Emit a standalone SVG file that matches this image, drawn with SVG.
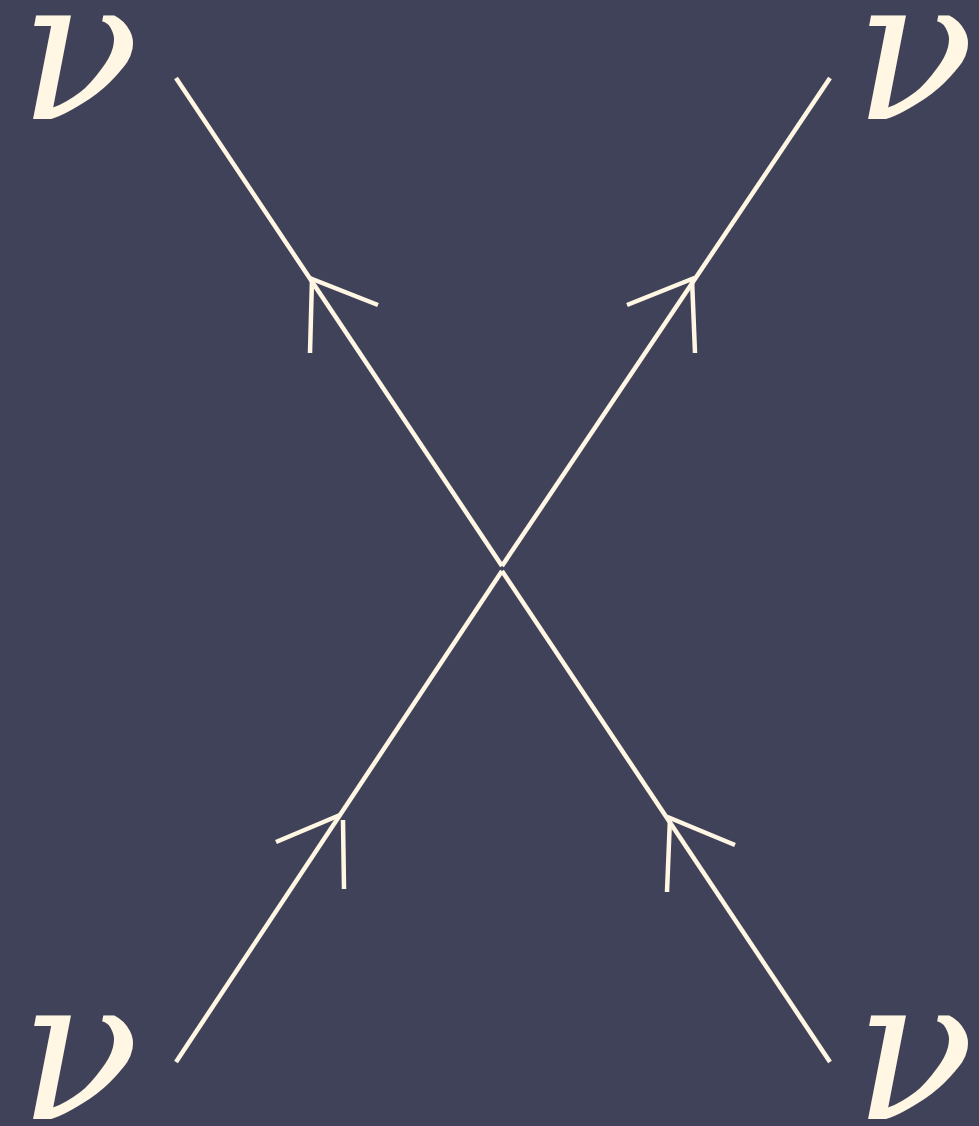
<svg xmlns="http://www.w3.org/2000/svg" width="979" height="1126" viewBox="0 0 979 1126">
<style>
.bg{fill:#404259}
.ln{stroke:#fff6e3;stroke-width:4.5;fill:none}
.lbl{fill:#fff6e3;font-family:"DejaVu Serif",serif;font-style:italic;font-size:198px}
</style>
<rect class="bg" x="0" y="0" width="979" height="1126"/>
<g id="connectors">
<path class="ln" d="M176,78 L502,566"/>
<path class="ln" d="M830,78 L502,566"/>
<path class="ln" d="M176,1062 L502,571"/>
<path class="ln" d="M830,1062 L502,571"/>
<path class="ln" d="M378,305 L312,279 L310,353"/>
<path class="ln" d="M627,305 L692,279 L695,353"/>
<path class="ln" d="M276,842 L340,815"/>
<path class="ln" d="M343,820 L344,889"/>
<path class="ln" d="M735,845 L670,818 L667,892"/>
</g>
<g id="nu-top-left"><text class="lbl" x="19" y="119">ν</text></g>
<g id="nu-top-right"><text class="lbl" x="854" y="119">ν</text></g>
<g id="nu-bottom-left"><text class="lbl" x="19" y="1119">ν</text></g>
<g id="nu-bottom-right"><text class="lbl" x="854" y="1119">ν</text></g>
</svg>
